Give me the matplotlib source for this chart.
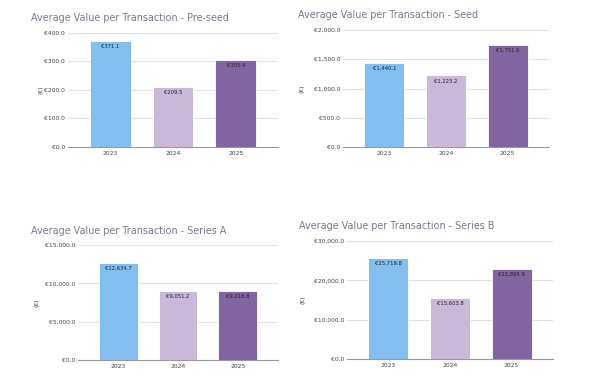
import matplotlib
matplotlib.use("Agg")
import matplotlib.pyplot as plt
from matplotlib.ticker import FuncFormatter

years = ["2023", "2024", "2025"]
preseed = [371.1, 209.5, 305.4]
seed = [1440.1, 1223.2, 1751.6]
series_a = [12634.7, 9051.2, 9016.8]
series_b = [25719.8, 15603.8, 22895.9]
colors = ["#82BEF0", "#C9B8D8", "#8164A2"]

panels = [
    ("Average Value per Transaction - Pre-seed", preseed, 400, 100,
     [68, 278, 33, 147], (31, 18), 41),
    ("Average Value per Transaction - Seed", seed, 2000, 500,
     [343, 549, 30, 147], (298, 15), 302),
    ("Average Value per Transaction - Series A", series_a, 15000, 5000,
     [78, 278, 245, 360], (31, 231), 37),
    ("Average Value per Transaction - Series B", series_b, 30000, 10000,
     [347, 553, 241, 359], (299, 226), 303),
]

W, H = 591, 390
fig = plt.figure(figsize=(W / 100, H / 100), dpi=100)
fig.patch.set_facecolor("white")

fmt = FuncFormatter(lambda v, p: "€{:,.1f}".format(v))

for title, vals, ymax, step, (l, r, t, b), (tx, ty), ylx in panels:
    ax = fig.add_axes([l / W, (H - b) / H, (r - l) / W, (b - t) / H])
    x = list(range(len(years)))
    ax.bar(x, vals, width=0.65, color=colors, edgecolor="white", linewidth=0.6, zorder=3)
    for xi, v in zip(x, vals):
        ax.text(xi, v - ymax * 0.025, "€{:,.1f}".format(v), ha="center", va="top",
                fontsize=3.8, color="#222222", zorder=4)
    ax.set_xlim(-0.67, 2.67)
    ax.set_ylim(0, ymax)
    ticks = [i * step for i in range(int(ymax / step) + 1)]
    ax.set_yticks(ticks)
    ax.yaxis.set_major_formatter(fmt)
    ax.set_xticks(x)
    ax.set_xticklabels(years)
    ax.tick_params(axis="both", length=0, labelsize=4.3, colors="#444444", pad=3)
    ax.tick_params(axis="y", pad=2)
    ax.grid(axis="y", color="#E2E2E2", linewidth=0.8, zorder=0)
    for s in ["top", "right", "left"]:
        ax.spines[s].set_visible(False)
    ax.spines["bottom"].set_color("#999999")
    ax.spines["bottom"].set_linewidth(0.8)
    ax.set_facecolor("white")
    fig.text(tx / W, 1 - ty / H, title, ha="left", va="center", fontsize=6.95, color="#7A7890")
    fig.text(ylx / W, 1 - ((t + b) / 2) / H, "(€)", rotation=90, ha="center", va="center",
             fontsize=4.4, color="#444444")

fig.savefig("out.png", dpi=100, facecolor="white")
